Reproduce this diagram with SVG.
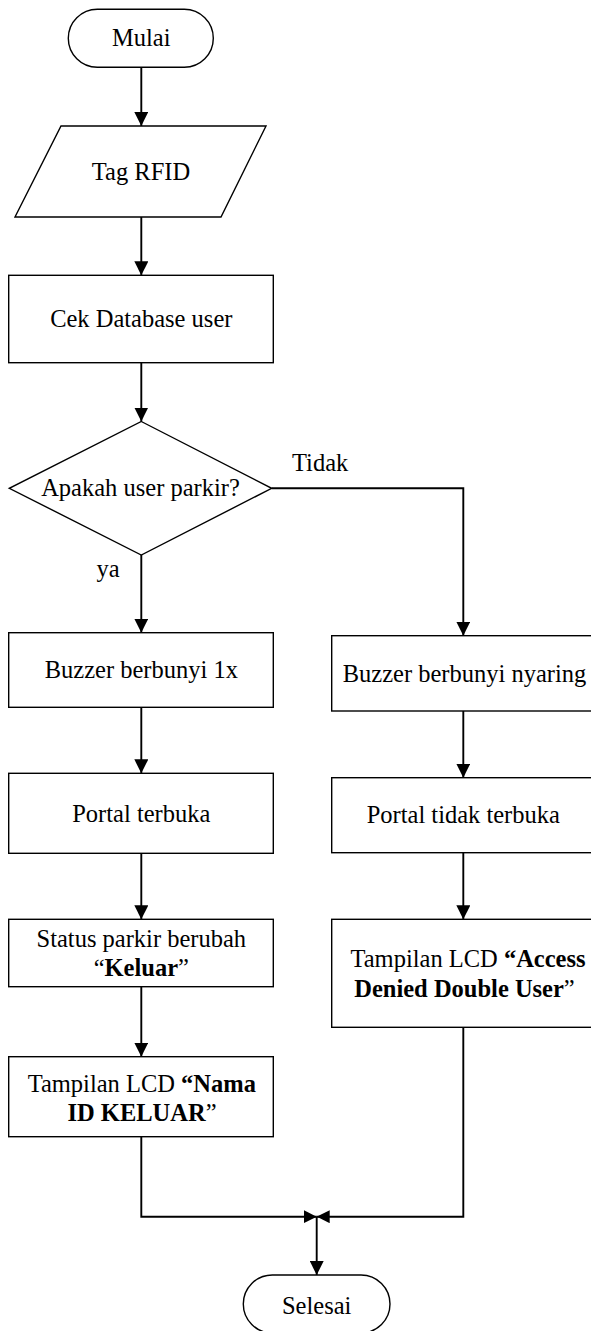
<svg xmlns="http://www.w3.org/2000/svg" width="591" height="1331" viewBox="0 0 591 1331">
  <style>
    .shape { fill: #ffffff; stroke: #000000; stroke-width: 1.4; }
    .conn { fill: none; stroke: #000000; stroke-width: 1.9; }
    text { font-family: "Liberation Serif", "Times New Roman", serif; font-size: 24.5px; fill: #000000; }
    .c { text-anchor: middle; }
    .b { font-weight: bold; }
  </style>
  <defs>
    <marker id="arrow" viewBox="0 0 14 14" refX="14" refY="7" markerWidth="14" markerHeight="14" markerUnits="userSpaceOnUse" orient="auto">
      <path d="M0,0 L14,7 L0,14 z" fill="#000000"/>
    </marker>
    <marker id="arrowSmall" viewBox="0 0 13 13" refX="13" refY="6.5" markerWidth="13" markerHeight="13" markerUnits="userSpaceOnUse" orient="auto">
      <path d="M0,0 L13,6.5 L0,13 z" fill="#000000"/>
    </marker>
  </defs>

  <!-- connectors -->
  <g id="connectors">
    <path class="conn" d="M141.3,67.3 V126" marker-end="url(#arrow)"/>
    <path class="conn" d="M141.3,217 V275.3" marker-end="url(#arrow)"/>
    <path class="conn" d="M141.3,362.7 V421.5" marker-end="url(#arrow)"/>
    <path class="conn" d="M141.3,555 V632.7" marker-end="url(#arrow)"/>
    <path class="conn" d="M271.7,488.3 H463.3 V635.7" marker-end="url(#arrow)"/>
    <path class="conn" d="M141.3,707.3 V773.3" marker-end="url(#arrow)"/>
    <path class="conn" d="M141.3,853.3 V919.3" marker-end="url(#arrow)"/>
    <path class="conn" d="M141.3,986.7 V1056.7" marker-end="url(#arrow)"/>
    <path class="conn" d="M463.3,711 V777.7" marker-end="url(#arrow)"/>
    <path class="conn" d="M463.3,852.7 V919.3" marker-end="url(#arrow)"/>
    <path class="conn" d="M141.3,1136.7 V1216.7 H316.7" marker-end="url(#arrowSmall)"/>
    <path class="conn" d="M463.3,1027.3 V1216.7 H316.7" marker-end="url(#arrowSmall)"/>
    <path class="conn" d="M316.7,1216.7 V1275" marker-end="url(#arrow)"/>
    <text x="292" y="471">Tidak</text>
    <text x="96.5" y="577">ya</text>
  </g>

  <g id="mulai">
    <rect class="shape" x="68.3" y="9.3" width="145" height="58" rx="29" ry="29"/>
    <text class="c" x="141.3" y="46">Mulai</text>
  </g>

  <g id="tag-rfid">
    <polygon class="shape" points="61,126 266,126 221,217 15,217"/>
    <text class="c" x="141" y="180">Tag RFID</text>
  </g>

  <g id="cek-database">
    <rect class="shape" x="8.7" y="275.3" width="264.6" height="87.4"/>
    <text class="c" x="141.3" y="327">Cek Database user</text>
  </g>

  <g id="decision">
    <polygon class="shape" points="141.3,421.5 271.7,488.3 141.3,555 9.3,488.3"/>
    <text class="c" x="140.5" y="496">Apakah user parkir?</text>
  </g>

  <g id="buzzer-1x">
    <rect class="shape" x="8.7" y="632.7" width="264.6" height="74.6"/>
    <text class="c" x="141.3" y="678.3">Buzzer berbunyi 1x</text>
  </g>

  <g id="portal-terbuka">
    <rect class="shape" x="8.7" y="773.3" width="264.6" height="80"/>
    <text class="c" x="141.3" y="821.7">Portal terbuka</text>
  </g>

  <g id="status-parkir">
    <rect class="shape" x="8.7" y="919.3" width="264.6" height="67.4"/>
    <text class="c" x="141.3" y="946.7">Status parkir berubah</text>
    <text class="c" x="141.3" y="976">“<tspan class="b">Keluar</tspan>”</text>
  </g>

  <g id="lcd-keluar">
    <rect class="shape" x="8.7" y="1056.7" width="264.6" height="80"/>
    <text class="c" x="141.8" y="1091.7">Tampilan LCD <tspan class="b">“Nama</tspan></text>
    <text class="c" x="142" y="1120.7"><tspan class="b">ID KELUAR</tspan>”</text>
  </g>

  <g id="buzzer-nyaring">
    <rect class="shape" x="331.7" y="635.7" width="263.3" height="75.3"/>
    <text class="c" x="464.5" y="681.7">Buzzer berbunyi nyaring</text>
  </g>

  <g id="portal-tidak-terbuka">
    <rect class="shape" x="331.7" y="777.7" width="263.3" height="75"/>
    <text class="c" x="463.3" y="823.3">Portal tidak terbuka</text>
  </g>

  <g id="lcd-denied">
    <rect class="shape" x="331.7" y="919.3" width="263.3" height="108"/>
    <text class="c" x="468" y="967.3">Tampilan LCD <tspan class="b">“Access</tspan></text>
    <text class="c" x="464.5" y="996.7"><tspan class="b">Denied Double User</tspan>”</text>
  </g>

  <g id="selesai">
    <rect class="shape" x="243.3" y="1275" width="146.7" height="58" rx="29" ry="29"/>
    <text class="c" x="316.7" y="1314">Selesai</text>
  </g>
</svg>
